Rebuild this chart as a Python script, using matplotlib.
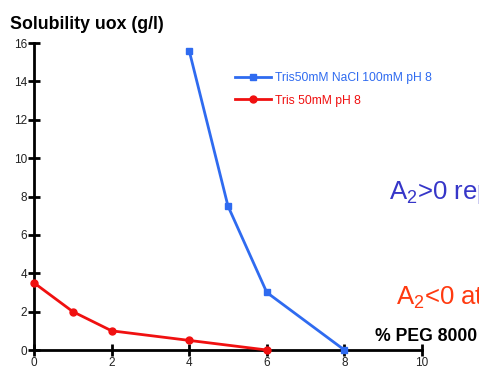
import matplotlib
matplotlib.use("Agg")
import matplotlib.pyplot as plt

plt.rcParams['font.family'] = ['Liberation Sans', 'DejaVu Sans']
plt.rcParams['mathtext.fontset'] = 'custom'
plt.rcParams['mathtext.rm'] = 'Liberation Sans'
plt.rcParams['mathtext.it'] = 'Liberation Sans'

peg_nacl = [4, 5, 6, 8]
sol_nacl = [15.6, 7.5, 3.0, 0.0]
peg_tris = [0, 1, 2, 4, 6]
sol_tris = [3.5, 2.0, 1.0, 0.5, 0.0]
xticks = [0, 2, 4, 6, 8, 10]
yticks = [0, 2, 4, 6, 8, 10, 12, 14, 16]

blue = '#2f6bf0'
red = '#f01010'

fig = plt.figure(figsize=(4.79, 3.71), dpi=100)
ax = fig.add_axes([0.071, 0.0566, 0.81, 0.8274])

ax.plot(peg_nacl, sol_nacl, color=blue, lw=2, marker='s', ms=5, clip_on=False,
        label='Tris50mM NaCl 100mM pH 8', zorder=3)
ax.plot(peg_tris, sol_tris, color=red, lw=2, marker='o', ms=5, clip_on=False,
        label='Tris 50mM pH 8', zorder=3)

ax.set_xlim(0, 10)
ax.set_ylim(0, 16)
ax.set_xticks(xticks)
ax.set_yticks(yticks)
for s in ['top', 'right']:
    ax.spines[s].set_visible(False)
for s in ['left', 'bottom']:
    ax.spines[s].set_linewidth(2)
ax.tick_params(direction='inout', length=8, width=2, labelsize=8.5, colors='black',
               labelcolor='#222222', pad=1)

leg = ax.legend(loc='upper left', bbox_to_anchor=(0.505, 0.92), frameon=False,
                fontsize=8.7, handlelength=3.0, handletextpad=0.3, labelspacing=0.85,
                borderaxespad=0)
for t, c in zip(leg.get_texts(), [blue, red]):
    t.set_color(c)

fig.text(0.021, 0.935, 'Solubility uox (g/l)', fontsize=12.8, fontweight='bold',
         ha='left', va='center')
fig.text(0.782, 0.092, '% PEG 8000', fontsize=12.7, fontweight='bold',
         ha='left', va='center')
fig.text(0.812, 0.482, r'A$_2$>0 rep', fontsize=18.5, color='#3636c8',
         ha='left', va='center')
fig.text(0.827, 0.198, r'A$_2$<0 at', fontsize=18.5, color='#ff3a10',
         ha='left', va='center')

fig.savefig('out.png', dpi=100)
